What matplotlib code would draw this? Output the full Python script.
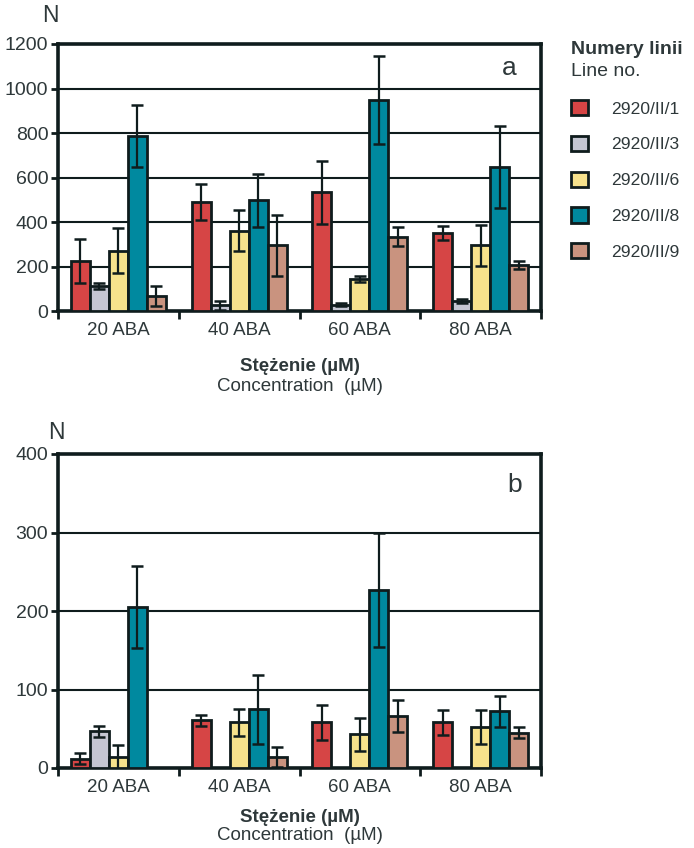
import matplotlib
matplotlib.use("Agg")
import matplotlib.pyplot as plt
import numpy as np
from matplotlib.patches import Patch

plt.rcParams['font.family'] = ['Liberation Sans', 'DejaVu Sans']

categories = ["20 ABA", "40 ABA", "60 ABA", "80 ABA"]
lines = ["2920/II/1", "2920/II/3", "2920/II/6", "2920/II/8", "2920/II/9"]
colors = ["#d64545", "#c4c6d2", "#f6e28c", "#00899f", "#c9937f"]

# Panel a: values and error (+/-) per line, per category
a_vals = {
    "2920/II/1": [225, 491, 533, 351],
    "2920/II/3": [112, 25, 28, 45],
    "2920/II/6": [271, 361, 144, 295],
    "2920/II/8": [787, 497, 948, 649],
    "2920/II/9": [69, 295, 333, 207],
}
a_err = {
    "2920/II/1": [98, 80, 142, 33],
    "2920/II/3": [12, 22, 7, 10],
    "2920/II/6": [100, 92, 15, 92],
    "2920/II/8": [140, 118, 196, 184],
    "2920/II/9": [45, 136, 43, 16],
}
# Panel b
b_vals = {
    "2920/II/1": [12, 61, 58, 58],
    "2920/II/3": [47, np.nan, np.nan, np.nan],
    "2920/II/6": [14, 58, 43, 52],
    "2920/II/8": [205, 75, 227, 72],
    "2920/II/9": [np.nan, 14, 66, 45],
}
b_err = {
    "2920/II/1": [7, 7, 22, 16],
    "2920/II/3": [7, np.nan, np.nan, np.nan],
    "2920/II/6": [15, 17, 21, 22],
    "2920/II/8": [52, 44, 73, 20],
    "2920/II/9": [np.nan, 13, 20, 7],
}

DARK = "#0f1c1d"
TXT = "#2e383a"

W, H = 694, 848
fig = plt.figure(figsize=(W / 100, H / 100), dpi=100)

def px_axes(x0, y0, x1, y1):
    return fig.add_axes([x0 / W, 1 - y1 / H, (x1 - x0) / W, (y1 - y0) / H])

ax_a = px_axes(58, 44, 541, 311)
ax_b = px_axes(58, 454, 541, 768)

bw = 0.157

def draw(ax, vals, errs, ymax, step, letter, lx, ly):
    x = np.arange(len(categories)) + 0.5
    for i, (ln, c) in enumerate(zip(lines, colors)):
        v = np.array(vals[ln], dtype=float)
        e = np.array(errs[ln], dtype=float)
        xs = x + (i - 2) * bw
        ax.bar(xs, v, width=bw, color=c, edgecolor=DARK, linewidth=2.0, zorder=3)
        ax.errorbar(xs, v, yerr=e, fmt='none', ecolor=DARK, elinewidth=1.6,
                    capsize=4.0, capthick=1.8, zorder=4)
    ax.set_xlim(0, 4)
    ax.set_ylim(0, ymax)
    ax.set_yticks(np.arange(0, ymax + 1, step))
    ax.yaxis.grid(True, color=DARK, linewidth=1.5, zorder=0)
    ax.set_axisbelow(True)
    ax.set_xticks([0, 1, 2, 3, 4])
    ax.set_xticklabels([])
    ax.set_xticks(x, minor=True)
    ax.set_xticklabels(categories, minor=True)
    ax.tick_params(axis='x', which='minor', length=0, pad=8, labelsize=13.5, labelcolor=TXT)
    ax.tick_params(axis='x', which='major', length=6, width=2, color=DARK, direction='out')
    ax.tick_params(axis='y', length=5, width=2, color=DARK, labelsize=14, labelcolor=TXT, pad=2)
    for s in ax.spines.values():
        s.set_linewidth(2.6)
        s.set_color(DARK)
    ax.text(lx, ly, letter, transform=ax.transAxes, fontsize=19, color=TXT,
            ha='center', va='center')

draw(ax_a, a_vals, a_err, 1200, 200, "a", 0.935, 0.91)
draw(ax_b, b_vals, b_err, 400, 100, "b", 0.945, 0.9)

# N labels
fig.text(50 / W, 1 - 16 / H, "N", fontsize=16.5, color=TXT, ha='center', va='center')
fig.text(56 / W, 1 - 433 / H, "N", fontsize=16.5, color=TXT, ha='center', va='center')

# axis titles
for yb, yc in [(367, 386), (817, 836)]:
    fig.text(300 / W, 1 - yb / H, "Stężenie (µM)", fontsize=13.5, fontweight='bold',
             color=TXT, ha='center', va='center')
    fig.text(300 / W, 1 - yc / H, "Concentration  (µM)", fontsize=13.5,
             color=TXT, ha='center', va='center')

# legend
fig.text(571 / W, 1 - 50 / H, "Numery linii", fontsize=14, fontweight='bold',
         color=TXT, ha='left', va='center')
fig.text(571 / W, 1 - 72 / H, "Line no.", fontsize=14, color=TXT, ha='left', va='center')
handles = [Patch(facecolor=c, edgecolor=DARK, linewidth=2.0) for c in colors]
leg = fig.legend(handles, lines, loc='upper left', bbox_to_anchor=(571 / W, 1 - 100 / H),
                 frameon=False, fontsize=12.6, labelspacing=1.1, handlelength=0.95,
                 handleheight=0.95, handletextpad=1.35, borderpad=0, borderaxespad=0)
for t in leg.get_texts():
    t.set_color(TXT)

fig.savefig("out.png", dpi=100)
